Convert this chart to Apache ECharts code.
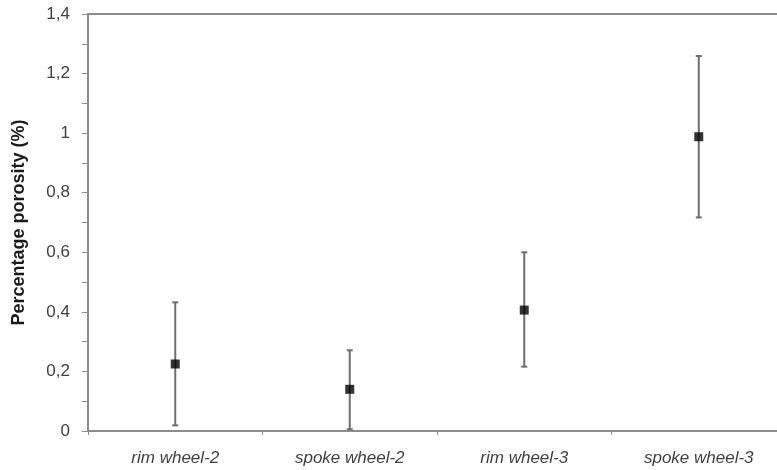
<!DOCTYPE html>
<html><head><meta charset="utf-8">
<script src="https://cdn.jsdelivr.net/npm/echarts@6/dist/echarts.min.js"></script>
<style>html,body{margin:0;padding:0;background:#fff}#c{width:777px;height:470px}</style>
</head><body><div id="c"></div>
<script>
const categories = ['rim wheel-2', 'spoke wheel-2', 'rim wheel-3', 'spoke wheel-3'];
const means = [0.225, 0.14, 0.406, 0.988];
const lows = [0.019, 0.006, 0.216, 0.717];
const highs = [0.432, 0.271, 0.6, 1.259];
const yTicks = [0, 0.2, 0.4, 0.6, 0.8, 1, 1.2, 1.4];

const chart = echarts.init(document.getElementById('c'), null, {renderer: 'canvas'});
const errData = categories.map((c, i) => [i, lows[i], highs[i]]);
const axisColor = '#8c8c8c';
chart.setOption({
  animation: false,
  grid: {left: 88, top: 14, width: 698, height: 417, outerBoundsMode: 'none', containLabel: false, show: false},
  xAxis: [{
    type: 'category', data: categories,
    axisLine: {lineStyle: {color: axisColor, width: 2}},
    axisTick: {show: true, length: 4, lineStyle: {color: axisColor, width: 1}},
    axisLabel: {fontFamily: 'Liberation Sans', fontStyle: 'italic', fontSize: 17, color: '#404040', margin: 19}
  }, {
    type: 'category', data: categories, position: 'top',
    axisLine: {show: true, lineStyle: {color: axisColor, width: 2}},
    axisTick: {show: false}, axisLabel: {show: false}, splitLine: {show: false}
  }],
  yAxis: {
    type: 'value', min: 0, max: 1.4, interval: 0.2,
    name: 'Percentage porosity (%)', nameLocation: 'middle', nameGap: 60,
    nameTextStyle: {fontFamily: 'Liberation Sans', fontWeight: 'bold', fontSize: 18, color: '#1a1a1a'},
    axisLine: {show: true, lineStyle: {color: axisColor, width: 2}},
    axisTick: {show: true, length: 6, lineStyle: {color: axisColor, width: 1}},
    minorTick: {show: true, splitNumber: 2, length: 6, lineStyle: {color: axisColor, width: 1}},
    splitLine: {show: false},
    axisLabel: {fontFamily: 'Liberation Sans', fontSize: 17, color: '#404040', margin: 18,
      formatter: v => { const t = yTicks.find(x => Math.abs(x - v) < 1e-9); return String(t !== undefined ? t : v).replace('.', ','); }}
  },
  series: [
    {
      type: 'custom',
      data: errData,
      renderItem: function (params, api) {
        const x = api.value(0);
        const lo = api.coord([x, api.value(1)]);
        const hi = api.coord([x, api.value(2)]);
        const cap = 3;
        const style = {stroke: '#6e6e6e', lineWidth: 2};
        return {type: 'group', children: [
          {type: 'line', shape: {x1: lo[0], y1: lo[1], x2: hi[0], y2: hi[1]}, style: style},
          {type: 'line', shape: {x1: lo[0] - cap, y1: lo[1], x2: lo[0] + cap, y2: lo[1]}, style: style},
          {type: 'line', shape: {x1: hi[0] - cap, y1: hi[1], x2: hi[0] + cap, y2: hi[1]}, style: style}
        ]};
      },
      z: 2
    },
    {
      type: 'scatter', data: means, symbol: 'rect', symbolSize: 9,
      itemStyle: {color: '#000'}, z: 3
    }
  ]
});
</script></body></html>
